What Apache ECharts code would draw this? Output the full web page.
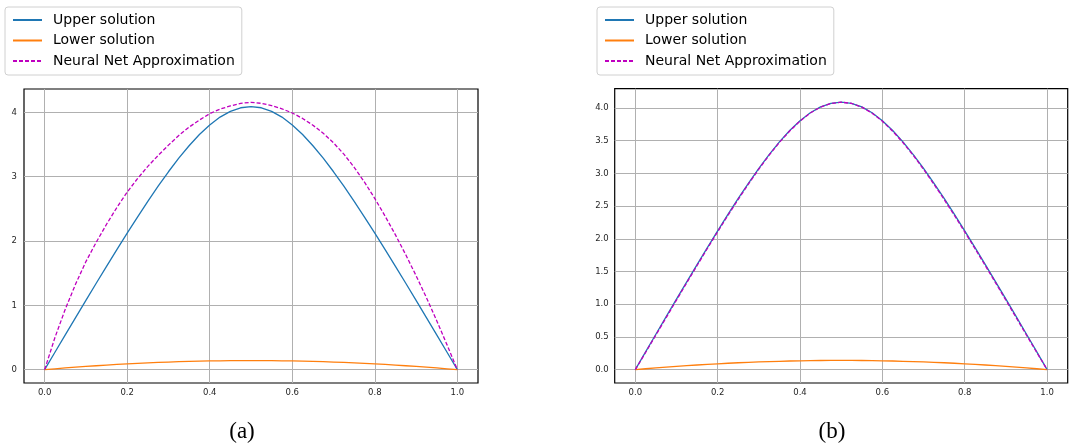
<!DOCTYPE html>
<html>
<head>
<meta charset="utf-8">
<script src="https://cdn.jsdelivr.net/npm/echarts@6/dist/echarts.min.js"></script>
<style>html,body{margin:0;padding:0;background:#fff}#c{width:1069px;height:446px}</style>
</head>
<body>
<div id="c"></div>
<script>
// ---- data ----
const xs = [0,0.025,0.05,0.075,0.1,0.125,0.15,0.175,0.2,0.225,0.25,0.275,0.3,0.325,0.35,0.375,0.4,0.425,0.45,0.475,0.5,
            0.525,0.55,0.575,0.6,0.625,0.65,0.675,0.7,0.725,0.75,0.775,0.8,0.825,0.85,0.875,0.9,0.925,0.95,0.975,1];
const upperSolution = [0,0.2707,0.5406,0.8094,1.0769,1.3424,1.6056,1.8656,2.1216,2.3723,2.6162,2.8516,3.0762,3.2870,3.4811,3.6549,3.8045,3.9259,4.0158,4.0710,4.0896,
            4.0710,4.0158,3.9259,3.8045,3.6549,3.4811,3.2870,3.0762,2.8516,2.6162,2.3723,2.1216,1.8656,1.6056,1.3424,1.0769,0.8094,0.5406,0.2707,0];
const lowerSolution = [0,0.0134,0.0262,0.0383,0.0498,0.0607,0.0709,0.0804,0.0892,0.0973,0.1048,0.1115,0.1176,0.1230,0.1276,0.1316,0.1348,0.1373,0.1391,0.1402,0.1405,
            0.1402,0.1391,0.1373,0.1348,0.1316,0.1276,0.1230,0.1176,0.1115,0.1048,0.0973,0.0892,0.0804,0.0709,0.0607,0.0498,0.0383,0.0262,0.0134,0];
const nnApproxA = [0,0.50,0.94,1.33,1.68,1.98,2.26,2.52,2.76,2.97,3.16,3.33,3.49,3.64,3.77,3.88,3.98,4.05,4.10,4.14,4.155,
            4.14,4.105,4.055,3.99,3.905,3.80,3.675,3.525,3.35,3.145,2.915,2.66,2.385,2.095,1.785,1.46,1.12,0.76,0.385,0];
const nnApproxB = [0,0.262,0.528,0.795,1.062,1.328,1.591,1.851,2.107,2.358,2.603,2.839,3.065,3.278,3.473,3.648,3.799,3.922,4.013,4.069,4.088,
            4.069,4.012,3.920,3.796,3.645,3.470,3.275,3.062,2.836,2.600,2.356,2.104,1.848,1.589,1.325,1.060,0.793,0.526,0.262,0];
const xTicks = [0,0.2,0.4,0.6,0.8,1.0];
const yTicksA = [0,1,2,3,4];
const yTicksB = [0,0.5,1.0,1.5,2.0,2.5,3.0,3.5,4.0];
const seriesNames = ['Upper solution','Lower solution','Neural Net Approximation'];
const captions = ['(a)','(b)'];

// ---- helpers ----
const pairs = (ys) => xs.map((x, i) => [x, ys[i]]);
function margins(arrs) {
  let lo = Infinity, hi = -Infinity;
  arrs.forEach(a => a.forEach(v => { lo = Math.min(lo, v); hi = Math.max(hi, v); }));
  const m = (hi - lo) * 0.05;
  return [lo - m, hi + m];
}
const xr = [-0.05, 1.05];
const yrA = margins([upperSolution, lowerSolution, nnApproxA]);
const yrB = margins([upperSolution, lowerSolution, nnApproxB]);

const FONT = 'DejaVu Sans';
const gridLine = {color: '#b0b0b0', width: 1, type: 'solid'};

function xAxisDef(gi) {
  return {
    type: 'value', gridIndex: gi, min: xr[0], max: xr[1],
    axisLine: {show: false},
    splitLine: {show: false},
    axisTick: {show: true, customValues: xTicks, length: 3.5, lineStyle: {color: '#000', width: 0.8}},
    axisLabel: {customValues: xTicks, margin: 5, fontSize: 8.5, fontFamily: FONT, color: '#262626',
      formatter: v => Number(v).toFixed(1)}
  };
}
function yAxisDef(gi, yr, ticks, dec, margin) {
  return {
    type: 'value', gridIndex: gi, min: yr[0], max: yr[1],
    axisLine: {show: false},
    splitLine: {show: false},
    axisTick: {show: true, customValues: ticks, length: 3.5, lineStyle: {color: '#000', width: 0.8}},
    axisLabel: {customValues: ticks, margin: margin, fontSize: 8.5, fontFamily: FONT, color: '#262626',
      formatter: v => Number(v).toFixed(dec)}
  };
}
function gridMarkLine(yTicks) {
  return {
    silent: true, z: 1, symbol: ['none', 'none'], animation: false,
    label: {show: false}, lineStyle: gridLine, emphasis: {disabled: true},
    data: xTicks.map(v => ({xAxis: v})).concat(yTicks.map(v => ({yAxis: v})))
  };
}
function makeSeries(gi, nn, yTicks) {
  const common = {type: 'line', xAxisIndex: gi, yAxisIndex: gi, symbol: 'none', smooth: false,
                  animation: false, z: 3, emphasis: {disabled: true}};
  return [
    Object.assign({}, common, {name: seriesNames[0], data: pairs(upperSolution),
      lineStyle: {color: '#1f77b4', width: 1.3}, itemStyle: {color: '#1f77b4'}, markLine: gridMarkLine(yTicks)}),
    Object.assign({}, common, {name: seriesNames[1], data: pairs(lowerSolution),
      lineStyle: {color: '#ff7f0e', width: 1.3}, itemStyle: {color: '#ff7f0e'}}),
    Object.assign({}, common, {name: seriesNames[2], data: pairs(nn),
      lineStyle: {color: '#bf00bf', width: 1.3, type: [4, 2]}, itemStyle: {color: '#bf00bf'}})
  ];
}
function legendDef(left) {
  return {
    data: seriesNames, orient: 'vertical', left: left, top: 7,
    itemWidth: 29, itemHeight: 14, itemGap: 6.5,
    padding: [6, 7, 7, 7],
    backgroundColor: '#fff', borderColor: '#d0d0d0', borderWidth: 1, borderRadius: 3,
    itemStyle: {opacity: 0, color: 'transparent', borderWidth: 0},
    textStyle: {fontSize: 14, fontFamily: FONT, color: '#000', padding: [0, 0, 0, 6]},
    selectedMode: false
  };
}

const chart = echarts.init(document.getElementById('c'), null, {renderer: 'canvas'});
chart.setOption({
  animation: false,
  backgroundColor: '#fff',
  grid: [
    {left: 24, top: 89, width: 454, height: 294, show: true, borderColor: '#000', borderWidth: 1.2, backgroundColor: 'transparent'},
    {left: 614.7, top: 88.7, width: 453, height: 294.3, show: true, borderColor: '#000', borderWidth: 1.2, backgroundColor: 'transparent'}
  ],
  legend: [legendDef(5), legendDef(597)],
  xAxis: [xAxisDef(0), xAxisDef(1)],
  yAxis: [yAxisDef(0, yrA, yTicksA, 0, 7), yAxisDef(1, yrB, yTicksB, 1, 6)],
  series: makeSeries(0, nnApproxA, yTicksA).concat(makeSeries(1, nnApproxB, yTicksB)),
  graphic: [
    {type: 'text', x: 242, y: 432, style: {text: captions[0], font: '23px "Liberation Serif"', fill: '#000', textAlign: 'center', textVerticalAlign: 'middle'}},
    {type: 'text', x: 832, y: 432, style: {text: captions[1], font: '23px "Liberation Serif"', fill: '#000', textAlign: 'center', textVerticalAlign: 'middle'}}
  ]
});
</script>
</body>
</html>
